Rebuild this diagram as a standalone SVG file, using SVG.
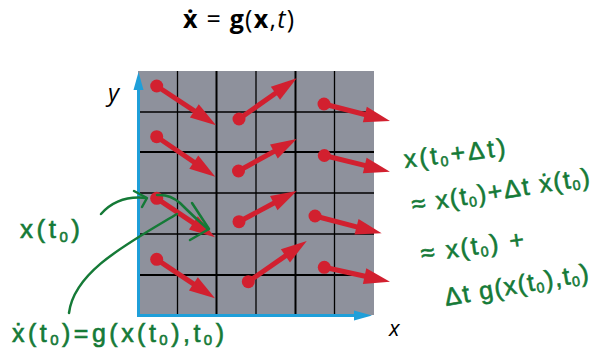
<svg xmlns="http://www.w3.org/2000/svg" width="597" height="353" viewBox="0 0 597 353">
<style>
.g{stroke:#000;stroke-width:1.3}
.gt{stroke:#000;stroke-width:2}
.vec{stroke:#d2202f;stroke-width:5;fill:none;marker-end:url(#rh)}
.dot{fill:#d2202f}
.ax{stroke:#1f9fd9;stroke-width:3;fill:none}
.hw{fill:#157a37;stroke:#157a37;stroke-width:0.6;font-family:"Liberation Sans",sans-serif}
.gs{stroke:#157a37;stroke-width:2.5;fill:none;stroke-linecap:round;stroke-linejoin:round}
</style>
<defs>
<marker id="rh" markerUnits="userSpaceOnUse" viewBox="-4 -8 26 16" refX="0" refY="0" markerWidth="26" markerHeight="16" orient="auto" overflow="visible">
<path d="M-4,-8 L22,0 L-4,8 z" fill="#d2202f"/>
</marker>
<marker id="bh" markerUnits="userSpaceOnUse" viewBox="-2 -5 18 10" refX="0" refY="0" markerWidth="18" markerHeight="10" orient="auto" overflow="visible">
<path d="M-2,-5 L16,0 L-2,5 z" fill="#1f9fd9"/>
</marker>
</defs>
<text x="183" y="28" font-family="Open Sans, DejaVu Sans, sans-serif" font-size="25" fill="#000" textLength="111" lengthAdjust="spacing"><tspan font-weight="bold">ẋ</tspan> = <tspan font-weight="bold">g</tspan>(<tspan font-weight="bold">x</tspan>,<tspan font-style="italic">t</tspan>)</text>
<g id="grid">
<rect x="138" y="71" width="236" height="244" fill="#8e919c"/>
<line class="g" x1="177.5" y1="71" x2="177.5" y2="315"/>
<line class="gt" x1="216.5" y1="71" x2="216.5" y2="315"/>
<line class="g" x1="256" y1="71" x2="256" y2="315"/>
<line class="gt" x1="295.5" y1="71" x2="295.5" y2="315"/>
<line class="g" x1="334.5" y1="71" x2="334.5" y2="315"/>
<line class="g" x1="138" y1="112" x2="374" y2="112"/>
<line class="gt" x1="138" y1="152" x2="374" y2="152"/>
<line class="g" x1="138" y1="193" x2="374" y2="193"/>
<line class="g" x1="138" y1="234" x2="374" y2="234"/>
<line class="gt" x1="138" y1="275" x2="374" y2="275"/>
</g>
<g id="axes">
<line class="ax" x1="138.5" y1="316" x2="138.5" y2="88" marker-end="url(#bh)"/>
<line class="ax" x1="137" y1="315.5" x2="356" y2="315.5" marker-end="url(#bh)"/>
<text x="108" y="101" font-family="Open Sans, DejaVu Sans, sans-serif" font-size="24" font-style="italic">y</text>
<text x="389" y="336" font-family="Open Sans, DejaVu Sans, sans-serif" font-size="22" font-style="italic">x</text>
</g>
<g id="vectors">
<line class="vec" x1="156.7" y1="86" x2="197.7" y2="113.1"/><circle class="dot" cx="156.7" cy="86" r="6.5"/>
<line class="vec" x1="156.7" y1="136.7" x2="197.1" y2="164.3"/><circle class="dot" cx="156.7" cy="136.7" r="6.5"/>
<line class="vec" x1="239" y1="119" x2="278.7" y2="91"/><circle class="dot" cx="239" cy="119" r="6.5"/>
<line class="vec" x1="238.5" y1="171" x2="277.4" y2="149.6"/><circle class="dot" cx="238.5" cy="171" r="6.5"/>
<line class="vec" x1="324" y1="104" x2="368.7" y2="115.5"/><circle class="dot" cx="324" cy="104" r="6.5"/>
<line class="vec" x1="324.3" y1="155.5" x2="368.6" y2="166.4"/><circle class="dot" cx="324.3" cy="155.5" r="6.5"/>
<line class="vec" x1="156.7" y1="198.3" x2="196.7" y2="225.1"/><circle class="dot" cx="156.7" cy="198.3" r="6.5"/>
<line class="vec" x1="239" y1="221.7" x2="277.3" y2="201.3"/><circle class="dot" cx="239" cy="221.7" r="6.5"/>
<line class="vec" x1="315" y1="216" x2="360.4" y2="227.8"/><circle class="dot" cx="315" cy="216" r="6.5"/>
<line class="vec" x1="156.7" y1="259.3" x2="196.7" y2="286.1"/><circle class="dot" cx="156.7" cy="259.3" r="6.5"/>
<line class="vec" x1="248.3" y1="281.7" x2="288.7" y2="253.6"/><circle class="dot" cx="248.3" cy="281.7" r="6.5"/>
<line class="vec" x1="324.3" y1="267.3" x2="368.5" y2="277"/><circle class="dot" cx="324.3" cy="267.3" r="6.5"/>
</g>
<g id="connectors">
<path class="gs" d="M101,214 Q118,195 146,198"/>
<path class="gs" d="M134,191 L147,198 L142,207"/>
<path class="gs" d="M157,195 Q170,194 180,203 Q195,218 208,229"/>
<path class="gs" d="M192,203 L209,229 L190,240"/>
<path class="gs" d="M69,313 C74,272 125,245 177,214"/>
</g>
<g id="annotations">
<text class="hw" x="20" y="238" font-size="26" textLength="60" lengthAdjust="spacing">x(t<tspan font-size="15" dy="4">0</tspan><tspan dy="-4">)</tspan></text>
<text class="hw" x="12" y="342" font-size="25" textLength="212" lengthAdjust="spacing">ẋ(t<tspan font-size="15" dy="3">0</tspan><tspan dy="-3">)=g(x(t</tspan><tspan font-size="15" dy="3">0</tspan><tspan dy="-3">),t</tspan><tspan font-size="15" dy="3">0</tspan><tspan dy="-3">)</tspan></text>
<g transform="rotate(-7 405 168)">
<text class="hw" x="405" y="168" font-size="25" textLength="102" lengthAdjust="spacing">x(t<tspan font-size="14" dy="3">0</tspan><tspan dy="-3">+Δt)</tspan></text>
</g>
<g transform="rotate(-9 413 213)">
<text class="hw" x="413" y="213" font-size="25" textLength="180" lengthAdjust="spacing">≈ x(t<tspan font-size="14" dy="3">0</tspan><tspan dy="-3">)+Δt ẋ(t</tspan><tspan font-size="14" dy="3">0</tspan><tspan dy="-3">)</tspan></text>
</g>
<g transform="rotate(-8 422 262)">
<text class="hw" x="422" y="262" font-size="25" textLength="104" lengthAdjust="spacing">≈ x(t<tspan font-size="14" dy="3">0</tspan><tspan dy="-3">) +</tspan></text>
</g>
<g transform="rotate(-10 446 306)">
<text class="hw" x="446" y="306" font-size="25" textLength="146" lengthAdjust="spacing">Δt g(x(t<tspan font-size="14" dy="3">0</tspan><tspan dy="-3">),t</tspan><tspan font-size="14" dy="3">0</tspan><tspan dy="-3">)</tspan></text>
</g>
</g>
</svg>
